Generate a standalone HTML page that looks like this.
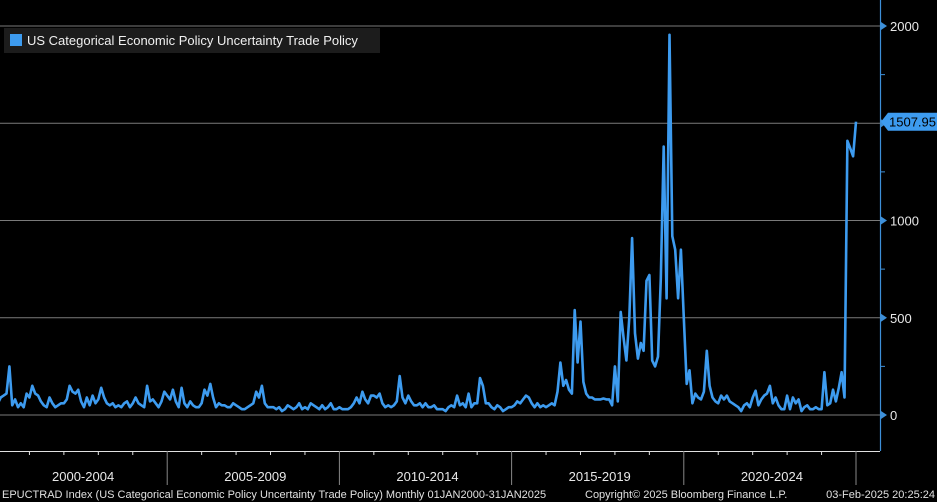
<!DOCTYPE html>
<html><head><meta charset="utf-8">
<style>
html,body{margin:0;padding:0;background:#000;}
body{width:937px;height:502px;overflow:hidden;position:relative;font-family:"Liberation Sans",sans-serif;}
svg{position:absolute;left:0;top:0;}
</style></head>
<body>
<svg id="chart" width="937" height="502" xmlns="http://www.w3.org/2000/svg"></svg>
<script>
const startYear = 2000;
const values = [
80,60,90,100,110,250,50,80,40,60,40,110,
90,150,110,100,70,50,40,90,60,40,50,60,
60,80,150,120,110,130,70,40,90,50,100,60,
80,140,90,60,50,60,40,50,40,60,70,40,
60,90,60,50,40,150,70,80,60,40,70,120,
100,80,130,70,40,140,60,40,70,50,40,40,
60,130,100,160,90,40,60,50,50,40,40,60,
50,40,30,30,40,50,60,120,90,150,60,40,
40,40,30,40,20,30,50,40,30,40,60,30,
40,30,60,50,40,30,50,30,40,60,30,30,
40,30,30,30,40,60,90,60,120,80,60,100,
100,90,110,60,40,50,40,50,70,200,90,60,
100,70,50,50,60,40,60,40,40,50,30,30,
30,20,40,50,40,100,50,60,40,110,40,60,
60,190,150,60,60,40,30,50,40,20,30,40,
40,50,70,60,80,100,90,60,40,60,40,50,
40,50,60,50,120,270,150,180,130,110,540,270,
480,170,110,90,90,80,80,80,85,80,80,50,
250,70,530,400,280,500,910,420,290,370,330,690,
720,280,250,300,700,1380,600,1955,920,850,600,850,
500,160,230,60,110,90,80,120,330,150,90,70,
60,100,80,100,70,60,50,40,20,50,60,40,
90,125,50,80,100,110,150,60,90,50,30,30,
100,30,90,60,80,20,40,50,30,30,40,30,
30,220,50,60,130,70,140,220,90,1410,1370,1330,
1508];
const yTicks = [0,500,1000,1500,2000];
const yTickLabels = ["0","500","1000","1500","2000"];
const periodLabels = ["2000-2004","2005-2009","2010-2014","2015-2019","2020-2024"];
const lastLabel = ["1507.95"];

const NS="http://www.w3.org/2000/svg";
const svg=document.getElementById('chart');
function xs(i){return -5+i*2.87;}
function ys(v){return 415-v*0.1945;}
function mk(tag,attrs,parent){const e=document.createElementNS(NS,tag);for(const k in attrs)e.setAttribute(k,attrs[k]);(parent||svg).appendChild(e);return e;}

// gridlines
yTicks.forEach((t,j)=>{
  const g=mk('line',{x1:0,x2:880,y1:ys(t),y2:ys(t),stroke:'#7a7a7a','stroke-width':1});
  
  
});
// right axis
const ax=mk('line',{x1:880.5,x2:880.5,y1:0,y2:451,stroke:'#3d8fd8','stroke-width':1.2});


for(let v=250;v<=2000;v+=500){
  const mt=mk('line',{x1:880,x2:885,y1:ys(v),y2:ys(v),stroke:'#3d8fd8','stroke-width':1});
  
  
}
yTicks.forEach((t,j)=>{
  const tr=mk('path',{d:`M881 ${ys(t)-4} L887 ${ys(t)} L881 ${ys(t)+4} Z`,fill:'#3d8fd8'});
  
  
  const tx=mk('text',{x:890,y:ys(t)+5,fill:'#e8e8e8','font-size':13});
  tx.textContent=yTickLabels[j];
  
  
});
// x axis
const xl=mk('line',{x1:0,x2:880,y1:451.5,y2:451.5,stroke:'#e0e0e0','stroke-width':1});


for(let y=1;y<=25;y++){
  const x=xs(y*12);
  if(y%5===0){
    const s=mk('line',{x1:x,x2:x,y1:451,y2:485,stroke:'#888','stroke-width':1});
    
    
  } else {
    const s=mk('line',{x1:x,x2:x,y1:451,y2:455,stroke:'#e0e0e0','stroke-width':1});
    
    
  }
}
periodLabels.forEach((p,j)=>{
  const t=mk('text',{x:(xs(j*60)+xs((j+1)*60))/2+2,y:481,fill:'#e8e8e8','font-size':13,'text-anchor':'middle'});
  t.textContent=p;
  
  
});
// series
let d='';
values.forEach((v,i)=>{d+=(i?'L':'M')+xs(i).toFixed(1)+' '+ys(v).toFixed(1);});
const ln=mk('path',{d:d,fill:'none',stroke:'#3d9bef','stroke-width':2.6,'stroke-linejoin':'round'});


// last value label
const ly=ys(values[values.length-1]);
const lb=mk('path',{d:`M881 ${ly} L888 ${ly-9} L937 ${ly-9} L937 ${ly+9} L888 ${ly+9} Z`,fill:'#3d9bef'});


const lt=mk('text',{x:889,y:ly+5,fill:'#000','font-size':13});
lt.textContent=lastLabel[0];


// legend
const lg=mk('rect',{x:4,y:28,width:376,height:25,fill:'#1c1c1c'});


const sq=mk('rect',{x:10,y:34,width:12,height:12,fill:'#3d9bef'});


const lgt=mk('text',{x:27,y:45,fill:'#f0f0f0','font-size':13});
lgt.textContent='US Categorical Economic Policy Uncertainty Trade Policy';


// footer
const f1=mk('text',{x:2,y:498,fill:'#e0e0e0','font-size':11});
f1.textContent='EPUCTRAD Index (US Categorical Economic Policy Uncertainty Trade Policy)  Monthly 01JAN2000-31JAN2025';


const f2=mk('text',{x:585,y:498,fill:'#e0e0e0','font-size':11});
f2.textContent='Copyright© 2025 Bloomberg Finance L.P.';


const f3=mk('text',{x:935,y:498,fill:'#e0e0e0','font-size':11,'text-anchor':'end'});
f3.textContent='03-Feb-2025 20:25:24';


</script>
</body></html>
